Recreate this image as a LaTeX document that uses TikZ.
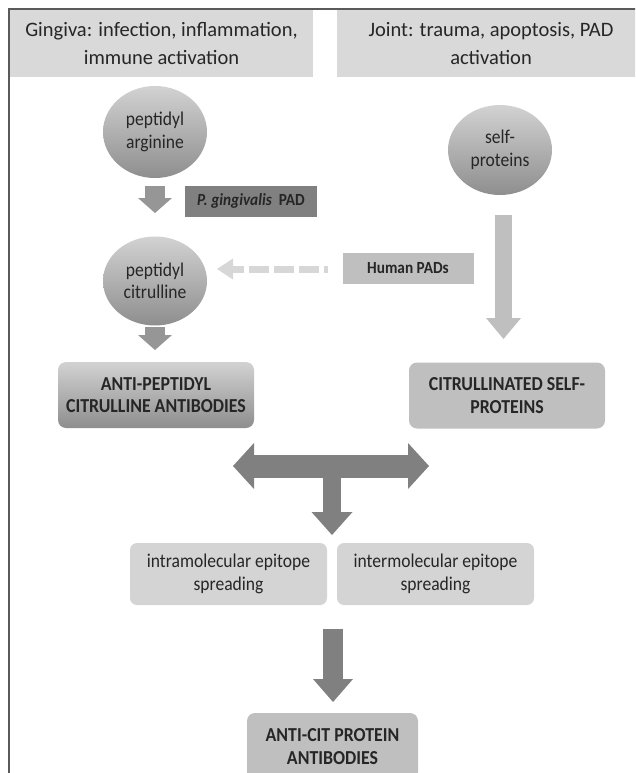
\documentclass[tikz,border=0pt]{standalone}
\usepackage{fontspec}
\setmainfont{Carlito}[FakeStretch=0.9]
\newfontfamily\hdrfamily{Carlito}
\usetikzlibrary{arrows.meta,shapes.geometric}
\definecolor{hdrgray}{RGB}{217,217,217}
\definecolor{frame}{RGB}{90,90,90}
\definecolor{ctop}{RGB}{210,210,210}
\definecolor{cbot}{RGB}{142,142,142}
\definecolor{smallarr}{RGB}{150,150,150}
\definecolor{darkbox}{RGB}{128,128,128}
\definecolor{midbox}{RGB}{191,191,191}
\definecolor{lightbox}{RGB}{212,212,212}
\definecolor{dashgray}{RGB}{215,215,215}
\definecolor{darkarr}{RGB}{128,128,128}
\definecolor{txt}{RGB}{38,38,38}
\newcommand\hdrfont{\hdrfamily\fontsize{20.5}{28}\selectfont}
\newcommand\cfont{\fontsize{19.5}{22.5}\selectfont}
\newcommand\bxfont{\fontsize{19.8}{22.5}\selectfont\bfseries}
\newcommand\lblfont{\fontsize{17}{18}\selectfont\bfseries}
\tikzset{
  hdrbox/.style={rectangle, fill=hdrgray, text=txt, align=center, font=\hdrfont, inner sep=0pt},
  circnode/.style={ellipse, top color=ctop, bottom color=cbot, text=txt, align=center, font=\cfont, inner sep=0pt},
  labelbox/.style={rectangle, text=txt, align=center, font=\lblfont, inner sep=0pt},
  resbox/.style={rectangle, rounded corners=8pt, text=txt, align=center, font=\bxfont, inner sep=0pt},
  spreadbox/.style={rectangle, rounded corners=7pt, fill=lightbox, text=txt, align=center, font=\cfont, inner sep=0pt},
  blockarr/.style n args={4}{draw=#1, line width=#2, -{Triangle[width=#3, length=#4, line width=0pt]}},
}
\begin{document}
\begin{tikzpicture}[x=1pt,y=-1pt]
\useasboundingbox (0,0) rectangle (635,773);
\clip (0,0) rectangle (635,773);
% headers
\node[hdrbox, minimum width=303pt, minimum height=67pt] (hL) at (161.5,43.5) {Gingiva: infection, inflammation,\\immune activation};
\node[hdrbox, minimum width=308pt, minimum height=67pt] (hR) at (491,43.5) {Joint: trauma, apoptosis, PAD\\activation};
% frame
\draw[frame, line width=1.5pt] (9,800) -- (9,9) -- (660,9);
% circles
\node[circnode, minimum width=104pt, minimum height=92pt] (arg) at (155,132) {peptidyl\\arginine};
\node[circnode, minimum width=104pt, minimum height=89pt] (cit) at (155,281) {peptidyl\\citrulline};
\node[circnode, minimum width=104pt, minimum height=90pt] (self) at (500,150) {self-\\proteins};
% labels
\node[labelbox, fill=darkbox, minimum width=132pt, minimum height=31pt] (pg) at (251,201) {\textit{P. gingivalis}\ \ PAD};
\node[labelbox, fill=midbox, minimum width=131pt, minimum height=31pt] (hp) at (408,268.5) {Human PADs};
% result boxes
\node[resbox, top color=ctop, bottom color=cbot, minimum width=196pt, minimum height=66pt] (ap) at (156,395) {ANTI-PEPTIDYL\\CITRULLINE ANTIBODIES};
\node[resbox, fill=midbox, minimum width=196pt, minimum height=66pt] (cs) at (507,395.5) {CITRULLINATED SELF-\\PROTEINS};
\node[spreadbox, minimum width=197pt, minimum height=62pt] (intra) at (228.5,574) {intramolecular epitope\\spreading};
\node[spreadbox, minimum width=197pt, minimum height=62pt] (inter) at (435.5,574) {intermolecular epitope\\spreading};
\node[resbox, fill=midbox, minimum width=171pt, minimum height=67pt] (ac) at (332.5,746.5) {ANTI-CIT PROTEIN\\ANTIBODIES};
% arrow end points
\coordinate (a1s) at (155,186);
\coordinate (a1e) at (155,213);
\coordinate (a2s) at (155,327);
\coordinate (a2e) at (155,350);
\coordinate (a3s) at (503.5,215);
\coordinate (a3e) at (503.5,339);
\coordinate (dS) at (328,269);
\coordinate (dE) at (217,269);
\coordinate (bL) at (233,466);
\coordinate (bR) at (429,466);
\coordinate (bM) at (332,466);
\coordinate (bD) at (332,535);
\coordinate (a4s) at (333,629);
\coordinate (a4e) at (333,702);
% arrows
\draw[blockarr={smallarr}{20pt}{34pt}{15pt}] (a1s) -- (a1e);
\draw[blockarr={smallarr}{20pt}{34pt}{15pt}] (a2s) -- (a2e);
\draw[blockarr={midbox}{17pt}{35pt}{21pt}] (a3s) -- (a3e);
\draw[blockarr={dashgray}{7pt}{21pt}{16pt}, dash pattern=on 20pt off 5pt, dash phase=16pt] (dS) -- (dE);
\draw[blockarr={darkarr}{18pt}{41pt}{23pt}] (bM) -- (bD);
\draw[draw=darkarr, line width=23pt, {Triangle[width=46pt, length=21pt, line width=0pt]}-{Triangle[width=46pt, length=21pt, line width=0pt]}] (bL) -- (bR);
\draw[blockarr={darkarr}{20pt}{40pt}{23pt}] (a4s) -- (a4e);
\end{tikzpicture}
\end{document}
